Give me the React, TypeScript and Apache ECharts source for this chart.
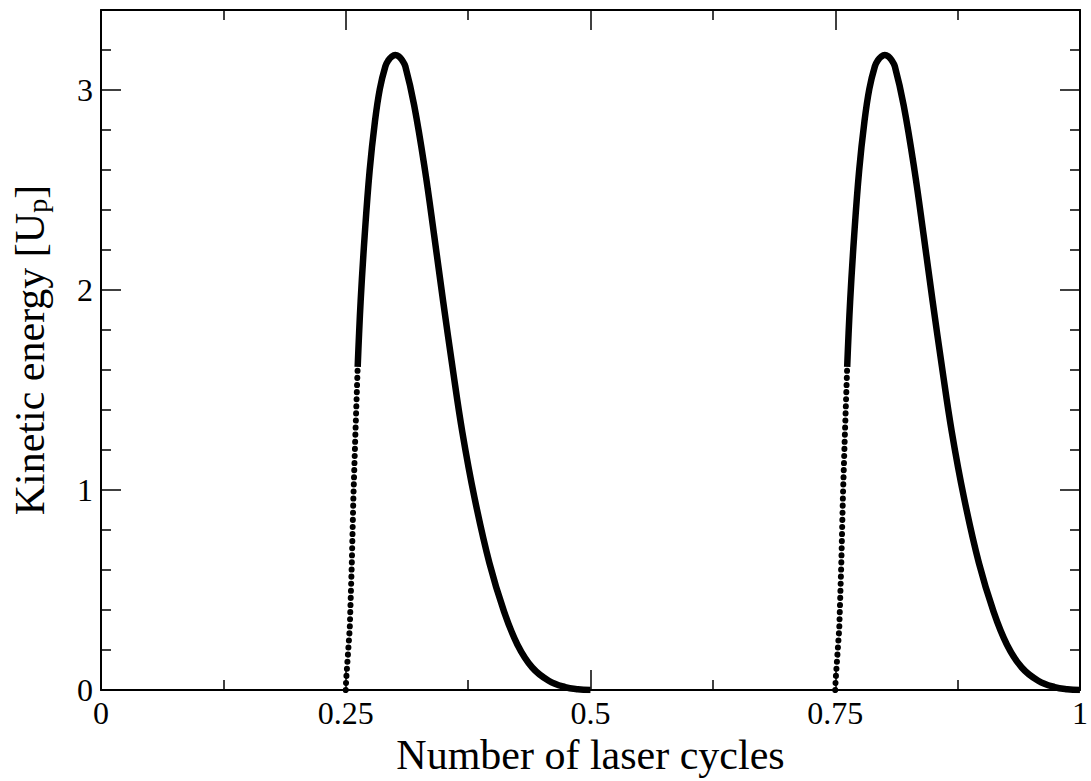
import React, { useEffect, useRef } from "react";
import * as echarts from "echarts";

const xTickLabels = ["0", "0.25", "0.5", "0.75", "1"];
const yTickLabels = ["0", "1", "2", "3"];

// steep (dotted) start of each hump
const riseEnergy = [0, 0.05, 0.309, 0.636, 0.962, 1.289, 1.616];
const riseTime1 = [0.25, 0.2504, 0.2541, 0.2562, 0.2578, 0.2599, 0.2622];
const riseTime2 = [0.75, 0.7504, 0.7541, 0.7562, 0.7578, 0.7599, 0.7622];

// rest of each hump (dense dots, drawn as a thick curve)
const mainEnergy = [
  1.616, 1.943, 2.27, 2.597, 2.842, 3.005, 3.119, 3.148, 3.166, 3.175, 3.168,
  3.15, 3.119, 2.923, 2.597, 2.27, 1.943, 1.616, 1.289, 0.962, 0.636, 0.391,
  0.227, 0.113, 0.047, 0.015, 0.004, 0.0,
];
const mainTime1 = [
  0.2622, 0.2652, 0.2693, 0.2744, 0.2798, 0.2848, 0.2905, 0.2935, 0.2968,
  0.3006, 0.3042, 0.3075, 0.3108, 0.3199, 0.331, 0.3404, 0.3495, 0.359, 0.3691,
  0.3815, 0.3967, 0.4118, 0.4254, 0.4405, 0.4573, 0.474, 0.487, 0.5,
];
const mainTime2 = [
  0.7622, 0.7652, 0.7693, 0.7744, 0.7798, 0.7848, 0.7905, 0.7935, 0.7968,
  0.8006, 0.8042, 0.8075, 0.8108, 0.8199, 0.831, 0.8404, 0.8495, 0.859, 0.8691,
  0.8815, 0.8967, 0.9118, 0.9254, 0.9405, 0.9573, 0.974, 0.987, 1.0,
];

const FONT = "'Liberation Serif', 'Times New Roman', serif";

function zip(t: number[], e: number[]) {
  return t.map((v, i) => [v, e[i]]);
}

export default function App() {
  const ref = useRef<HTMLDivElement>(null);
  useEffect(() => {
    if (!ref.current) return;
    const chart = echarts.init(ref.current, undefined, { renderer: "svg" });
    const axisLine = { show: true, onZero: false, lineStyle: { color: "#000", width: 2 } };
    const tickStyle = { color: "#000", width: 1.5 };
    const xBase = {
      type: "value",
      min: 0,
      max: 1,
      interval: 0.25,
      axisLine,
      axisTick: { show: true, inside: true, length: 20, lineStyle: tickStyle },
      minorTick: { show: true, splitNumber: 2, length: 10, lineStyle: tickStyle },
      splitLine: { show: false },
      minorSplitLine: { show: false },
    };
    const yBase = {
      type: "value",
      min: 0,
      max: 3.4,
      interval: 1,
      axisLine,
      axisTick: { show: true, inside: true, length: 20, lineStyle: tickStyle },
      minorTick: { show: true, splitNumber: 5, length: 10, lineStyle: tickStyle },
      splitLine: { show: false },
      minorSplitLine: { show: false },
    };
    const riseStyle = {
      color: "#000",
      width: 6,
      type: [0.1, 7],
      cap: "round",
    };
    const mainStyle = { color: "#000", width: 6.5, join: "round" };
    chart.setOption({
      animation: false,
      backgroundColor: "#fff",
      grid: { left: 101, right: 1, top: 10, bottom: 78, containLabel: false },
      xAxis: [
        {
          ...xBase,
          position: "bottom",
          axisLabel: {
            show: true,
            fontFamily: FONT,
            fontSize: 32,
            color: "#000",
            margin: 7,
            formatter: (v: number) => xTickLabels[Math.round(v / 0.25)] ?? "",
          },
          name: "Number of laser cycles",
          nameLocation: "middle",
          nameGap: 39,
          nameTextStyle: { fontFamily: FONT, fontSize: 42, color: "#000" },
        },
        { ...xBase, position: "top", axisLabel: { show: false } },
      ],
      yAxis: [
        {
          ...yBase,
          position: "left",
          axisLabel: {
            show: true,
            showMaxLabel: false,
            fontFamily: FONT,
            fontSize: 32,
            color: "#000",
            margin: 8,
            formatter: (v: number) => {
              const i = Math.round(v);
              return Math.abs(v - i) < 1e-6 ? yTickLabels[i] ?? "" : "";
            },
          },
          name: "Kinetic energy [U{sub|p}]",
          nameLocation: "middle",
          nameGap: 50,
          nameTextStyle: {
            fontFamily: FONT,
            fontSize: 42,
            color: "#000",
            lineHeight: 42,
            rich: {
              sub: {
                fontFamily: FONT,
                fontSize: 28,
                color: "#000",
                lineHeight: 10,
                verticalAlign: "bottom",
              },
            },
          },
        },
        { ...yBase, position: "right", axisLabel: { show: false } },
      ],
      series: [
        {
          type: "line",
          data: zip(riseTime1, riseEnergy),
          showSymbol: false,
          lineStyle: riseStyle,
          silent: true,
        },
        {
          type: "line",
          data: zip(mainTime1, mainEnergy),
          showSymbol: false,
          smooth: 0.4,
          lineStyle: mainStyle,
          silent: true,
        },
        {
          type: "line",
          data: zip(riseTime2, riseEnergy),
          showSymbol: false,
          lineStyle: riseStyle,
          silent: true,
        },
        {
          type: "line",
          data: zip(mainTime2, mainEnergy),
          showSymbol: false,
          smooth: 0.4,
          lineStyle: mainStyle,
          silent: true,
        },
      ],
    });
    return () => chart.dispose();
  }, []);
  return (
    <div
      ref={ref}
      style={{ position: "fixed", left: 0, top: 0, width: 1091, height: 781 }}
    />
  );
}
